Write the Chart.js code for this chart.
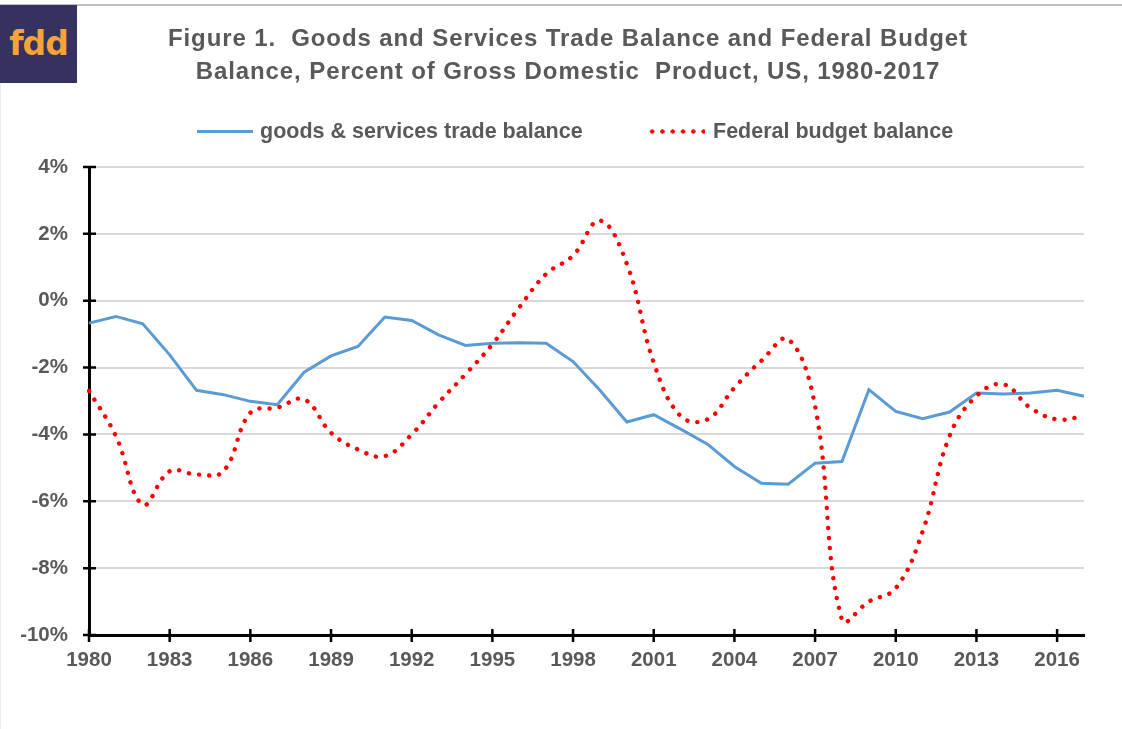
<!DOCTYPE html>
<html>
<head>
<meta charset="utf-8">
<script src="https://cdn.jsdelivr.net/npm/chart.js@4"></script>
<style>
  html, body { margin: 0; padding: 0; background: #fff; }
  #wrap { position: relative; width: 1122px; height: 729px; overflow: hidden; background: #fff;
          font-family: "Liberation Sans", Arial, sans-serif; }
  #topline { position: absolute; left: 0; top: 4px; width: 1122px; height: 2px; background: #bfbfbf; }
  #leftline { position: absolute; left: 0; top: 83px; width: 1px; height: 646px; background: #ececec; }
  #logo { position: absolute; left: 0; top: 5px; width: 77px; height: 78px; background: #35325f;
          color: #f7a23a; font-family: "DejaVu Sans", sans-serif; font-weight: bold; font-size: 33px;
          line-height: 78px; text-align: center; letter-spacing: -1px; }
  #title { position: absolute; left: 0; top: 21px; width: 1136px; text-align: center;
           font-weight: bold; font-size: 24px; line-height: 33px; color: #595959; letter-spacing: 0.9px; }
  .leg { position: absolute; font-weight: bold; font-size: 21.5px; line-height: 24px; color: #595959; white-space: nowrap; }
  #legBlue { position: absolute; left: 197px; top: 130px; width: 56px; height: 3px; background: #5b9bd5; }
  #legRed { position: absolute; left: 647px; top: 129px; width: 58px; height: 5px;
            background: radial-gradient(circle, #ff0000 1.9px, rgba(255,0,0,0) 2.4px) 0 0 / 10.3px 5px repeat-x; }
  canvas { position: absolute; left: 0; top: 0; }
</style>
</head>
<body>
<div id="wrap">
  <canvas id="c" width="1122" height="729"></canvas>
  <div id="topline"></div>
  <div id="leftline"></div>
  <div id="logo">fdd</div>
  <div id="title">Figure 1.&nbsp; Goods and Services Trade Balance and Federal Budget<br>Balance, Percent of Gross Domestic&nbsp; Product, US, 1980-2017</div>
  <div id="legBlue"></div>
  <div class="leg" style="left:260px; top:119px;">goods &amp; services trade balance</div>
  <div id="legRed"></div>
  <div class="leg" style="left:713px; top:119px;">Federal budget balance</div>
</div>
<script>
const years = [1980,1981,1982,1983,1984,1985,1986,1987,1988,1989,1990,1991,1992,1993,1994,1995,1996,1997,1998,1999,
               2000,2001,2002,2003,2004,2005,2006,2007,2008,2009,2010,2011,2012,2013,2014,2015,2016,2017];
const tradeBalance = [-0.67,-0.47,-0.69,-1.62,-2.68,-2.81,-3.01,-3.11,-2.14,-1.65,-1.37,-0.49,-0.59,-1.02,-1.34,-1.27,-1.26,-1.27,-1.82,-2.68,
                      -3.63,-3.41,-3.84,-4.29,-4.96,-5.46,-5.49,-4.86,-4.81,-2.66,-3.31,-3.53,-3.33,-2.76,-2.79,-2.76,-2.68,-2.86];
const budgetBalance = [-2.7,-4.05,-6.1,-5.1,-5.2,-5.1,-3.35,-3.2,-2.95,-3.95,-4.45,-4.65,-4.0,-3.05,-2.2,-1.3,-0.2,0.8,1.35,2.4,
                       1.1,-1.85,-3.45,-3.55,-2.6,-1.8,-1.15,-3.15,-9.55,-9.0,-8.6,-6.9,-4.05,-2.85,-2.5,-3.2,-3.55,-3.45];
const seriesNames = ['goods & services trade balance', 'Federal budget balance'];
const yMin = -10, yMax = 4, yStep = 2;
const xLabelEvery = 3;

const crossTicks = {
  id: 'crossTicks',
  afterDraw(chart) {
    const { ctx, scales: { x, y } } = chart;
    ctx.save();
    ctx.strokeStyle = '#000';
    ctx.lineWidth = 2.5;
    ctx.beginPath();
    y.ticks.forEach((t, i) => {
      const py = y.getPixelForTick(i);
      ctx.moveTo(x.left - 6, py); ctx.lineTo(x.left + 7, py);
    });
    x.ticks.forEach((t, i) => {
      if (i % xLabelEvery !== 0) return;
      const px = x.getPixelForTick(i);
      ctx.moveTo(px, y.bottom - 6); ctx.lineTo(px, y.bottom + 7);
    });
    ctx.stroke();
    ctx.restore();
  }
};

new Chart(document.getElementById('c'), {
  type: 'line',
  data: {
    labels: years,
    datasets: [
      { label: seriesNames[0], data: tradeBalance, borderColor: '#5b9bd5', borderWidth: 3,
        pointRadius: 0, tension: 0, fill: false, order: 1 },
      { label: seriesNames[1], data: budgetBalance, borderColor: '#ff0000', borderWidth: 4.4,
        borderDash: [0.1, 10], borderCapStyle: 'round', pointRadius: 0, tension: 0.4, fill: false, order: 0 }
    ]
  },
  options: {
    responsive: false,
    animation: false,
    devicePixelRatio: 1,
    layout: { padding: { left: 0, right: 38, top: 167, bottom: 0 } },
    plugins: { legend: { display: false }, title: { display: false }, tooltip: { enabled: false } },
    scales: {
      x: {
        type: 'category',
        offset: false,
        grid: { display: false, drawTicks: false },
        border: { display: true, color: '#000', width: 3 },
        ticks: {
          autoSkip: false, maxRotation: 0, minRotation: 0, padding: 13,
          color: '#595959', font: { family: 'Liberation Sans', weight: 'bold', size: 20.5 },
          callback: (v, i) => (i % xLabelEvery === 0 ? String(years[i]) : '')
        },
        afterFit: (s) => { s.height = 94; }
      },
      y: {
        min: yMin, max: yMax,
        grid: { color: '#d9d9d9', lineWidth: 2, drawTicks: false },
        border: { display: true, color: '#000', width: 3 },
        ticks: {
          stepSize: yStep, padding: 21,
          color: '#595959', font: { family: 'Liberation Sans', weight: 'bold', size: 20.5 },
          callback: (v) => v + '%'
        },
        afterFit: (s) => { s.width = 89; }
      }
    }
  },
  plugins: [crossTicks]
});
</script>
</body>
</html>
